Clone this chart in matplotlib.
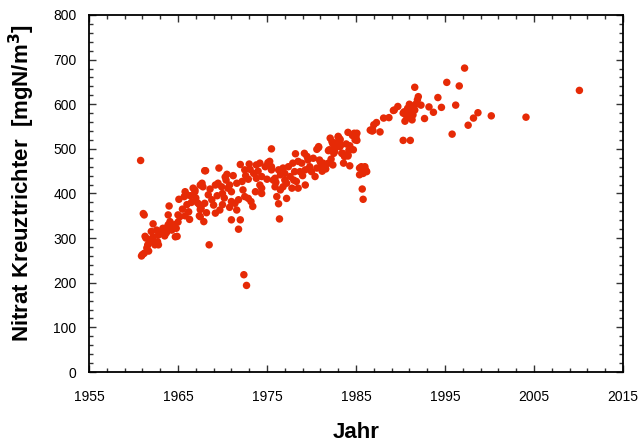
import matplotlib
matplotlib.use("Agg")
import matplotlib.pyplot as plt
from matplotlib.ticker import MultipleLocator

# data (year, nitrate in mgN/m3)
years_60s = [1960.8, 1961.2, 1961.1, 1960.9, 1961.0, 1961.2, 1961.3, 1961.4, 1961.5, 1961.7, 1961.6,
             1961.8, 1962.0, 1962.0, 1962.2, 1962.3, 1962.2, 1962.4, 1962.6, 1962.8, 1962.8, 1962.7,
             1963.2, 1963.3, 1963.4, 1963.5, 1963.7, 1963.7, 1963.9, 1964.1, 1963.9, 1964.0, 1964.1,
             1964.4, 1964.6, 1964.7, 1964.9, 1965.0, 1965.2, 1965.0, 1964.3, 1964.8,
             1965.1, 1965.7, 1965.8, 1966.0, 1966.2, 1966.3, 1966.7, 1966.9, 1967.0, 1967.2, 1967.4,
             1967.5, 1967.4, 1967.6, 1967.8, 1968.0, 1967.5, 1967.7, 1966.9, 1968.6, 1968.4, 1968.8,
             1969.0, 1968.0, 1967.6, 1968.2, 1969.2, 1969.7, 1967.5, 1967.9, 1968.5, 1966.5, 1966.0,
             1965.5, 1965.8, 1966.4]
nitrat_60s = [474, 352, 355, 260, 263, 266, 304, 300, 278, 271, 285,
              296, 315, 296, 303, 289, 332, 285, 318, 307, 285, 292,
              315, 322, 312, 305, 312, 323, 330, 337, 352, 372, 330,
              326, 330, 303, 304, 352, 348, 336, 318, 322,
              387, 393, 404, 397, 359, 342, 412, 404, 390, 379, 375,
              364, 350, 419, 415, 451, 419, 423, 408, 410, 397, 386,
              374, 378, 367, 357, 356, 363, 348, 337, 285, 380, 375,
              365, 350, 395]

years_70s = [1969.6, 1968.1, 1971.2, 1970.5, 1970.3, 1969.2, 1969.5, 1969.9, 1970.6, 1970.8, 1971.6,
             1972.2, 1971.0, 1971.4, 1971.6, 1970.8, 1971.8, 1971.0, 1972.0, 1971.8, 1972.4, 1972.7,
             1970.0, 1970.2, 1969.4, 1970.4, 1972.0, 1971.0, 1970.0,
             1972.5, 1973.1, 1973.8, 1974.2, 1975.1, 1975.5, 1972.9, 1973.8, 1974.4, 1975.0, 1975.7,
             1972.5, 1972.9, 1973.2, 1973.4, 1972.3, 1973.7, 1974.4, 1974.4, 1974.2, 1975.5, 1973.0,
             1972.6, 1973.5, 1974.8, 1974.0,
             1975.3, 1975.5, 1976.3, 1976.8, 1977.4, 1977.9, 1978.5, 1978.9, 1979.6, 1980.2, 1975.9,
             1976.5, 1977.0, 1977.6, 1978.1, 1978.7, 1979.3, 1980.0, 1980.6, 1975.9, 1976.5, 1976.8,
             1977.2, 1977.8, 1978.3, 1978.5, 1979.3, 1980.4, 1976.1, 1977.2, 1976.3, 1976.4, 1978.2,
             1979.2, 1979.5, 1976.0, 1977.0, 1979.0, 1979.8, 1978.0]
nitrat_70s = [457, 451, 440, 443, 437, 419, 423, 415, 412, 419, 423,
              427, 382, 378, 363, 369, 386, 341, 341, 320, 218, 194,
              400, 390, 395, 430, 465, 404, 375,
              453, 454, 464, 468, 469, 460, 432, 434, 438, 432, 430,
              393, 389, 382, 371, 408, 404, 412, 400, 419, 500, 466,
              440, 445, 460, 450,
              472, 453, 453, 457, 460, 468, 472, 468, 475, 479, 434,
              442, 445, 438, 449, 449, 453, 449, 457, 415, 408, 415,
              423, 412, 427, 412, 419, 438, 393, 389, 377, 343, 489,
              490, 483, 425, 430, 440, 460, 430]

years_80s = [1980.6, 1980.8, 1980.9, 1981.1, 1981.3, 1981.9, 1982.4, 1982.1, 1982.3, 1982.6, 1982.8,
             1983.2, 1983.0, 1982.0, 1982.5, 1983.4, 1984.1, 1984.8, 1985.1, 1984.6, 1985.0, 1983.0,
             1983.2, 1985.1, 1982.4, 1982.9, 1983.3, 1983.9, 1984.3, 1984.2, 1981.9, 1982.6, 1983.5,
             1983.7, 1984.1, 1980.8, 1981.0, 1981.5, 1982.2, 1981.6, 1981.2, 1984.9, 1984.7, 1984.1,
             1983.6, 1984.3, 1983.2, 1982.6,
             1985.4, 1985.6, 1986.0, 1986.2, 1985.4, 1985.8, 1985.7, 1985.8, 1986.1, 1986.6, 1986.8,
             1987.0, 1987.3, 1987.7, 1986.8, 1986.9]
nitrat_80s = [499, 505, 475, 460, 468, 468, 464, 524, 516, 513, 505,
              520, 528, 498, 490, 490, 537, 535, 535, 530, 527, 526,
              522, 519, 511, 507, 509, 511, 507, 497, 496, 494, 490,
              483, 484, 503, 470, 462, 477, 455, 450, 520, 498, 487,
              468, 462, 505, 505,
              457, 460, 460, 449, 442, 445, 410, 387, 452, 542, 540,
              554, 559, 538, 543, 541]

years_late = [1988.1, 1988.7, 1989.2, 1989.7, 1989.3, 1990.3, 1991.1, 1990.5, 1991.3, 1991.6, 1990.3,
              1990.8, 1991.2, 1991.7, 1990.4, 1990.6, 1991.0, 1991.4, 1991.6, 1992.0, 1991.9, 1992.3,
              1993.2, 1993.7, 1992.7, 1994.2, 1994.6, 1995.2, 1995.8, 1996.2, 1996.6, 1997.2, 1997.6,
              1998.2, 1998.7, 2000.2, 2004.1, 2010.1, 1991.0, 1990.9]
nitrat_late = [569, 570, 586, 595, 587, 519, 519, 562, 565, 587, 580,
               591, 596, 600, 583, 576, 583, 576, 638, 617, 610, 598,
               594, 582, 568, 615, 593, 649, 533, 598, 641, 681, 553,
               569, 581, 574, 571, 631, 600, 570]

years = years_60s + years_70s + years_80s + years_late
nitrat = nitrat_60s + nitrat_70s + nitrat_80s + nitrat_late

plt.rcParams['font.family'] = ['Liberation Sans', 'DejaVu Sans']

fig = plt.figure(figsize=(6.38, 4.46), dpi=100)
ax = fig.add_axes([0.1395, 0.1659, 0.837, 0.8005])

ax.scatter(years, nitrat, s=29, color='#e62a06', edgecolors='none', zorder=3)

ax.set_xlim(1955, 2015)
ax.set_ylim(0, 800)
ax.xaxis.set_major_locator(MultipleLocator(10, offset=5))
ax.xaxis.set_minor_locator(MultipleLocator(2, offset=1))
ax.yaxis.set_major_locator(MultipleLocator(100))
ax.yaxis.set_minor_locator(MultipleLocator(20))

ax.tick_params(which='both', direction='in', top=True, right=True, labelsize=10, color='#333333')
ax.tick_params(which='major', length=5, width=1)
ax.tick_params(which='minor', length=3, width=1)
ax.tick_params(axis='x', which='major', pad=13)
ax.tick_params(axis='y', which='major', pad=9)

for sp in ax.spines.values():
    sp.set_linewidth(1.3)

ax.set_xlabel("Jahr", fontsize=16, fontweight='bold', labelpad=13)
ax.set_ylabel("Nitrat Kreuztrichter  [mgN/m$^\\mathbf{3}$]", fontsize=16, fontweight='bold')
ax.yaxis.set_label_coords(-0.097, 0.53)

fig.savefig("out.png", dpi=100)
